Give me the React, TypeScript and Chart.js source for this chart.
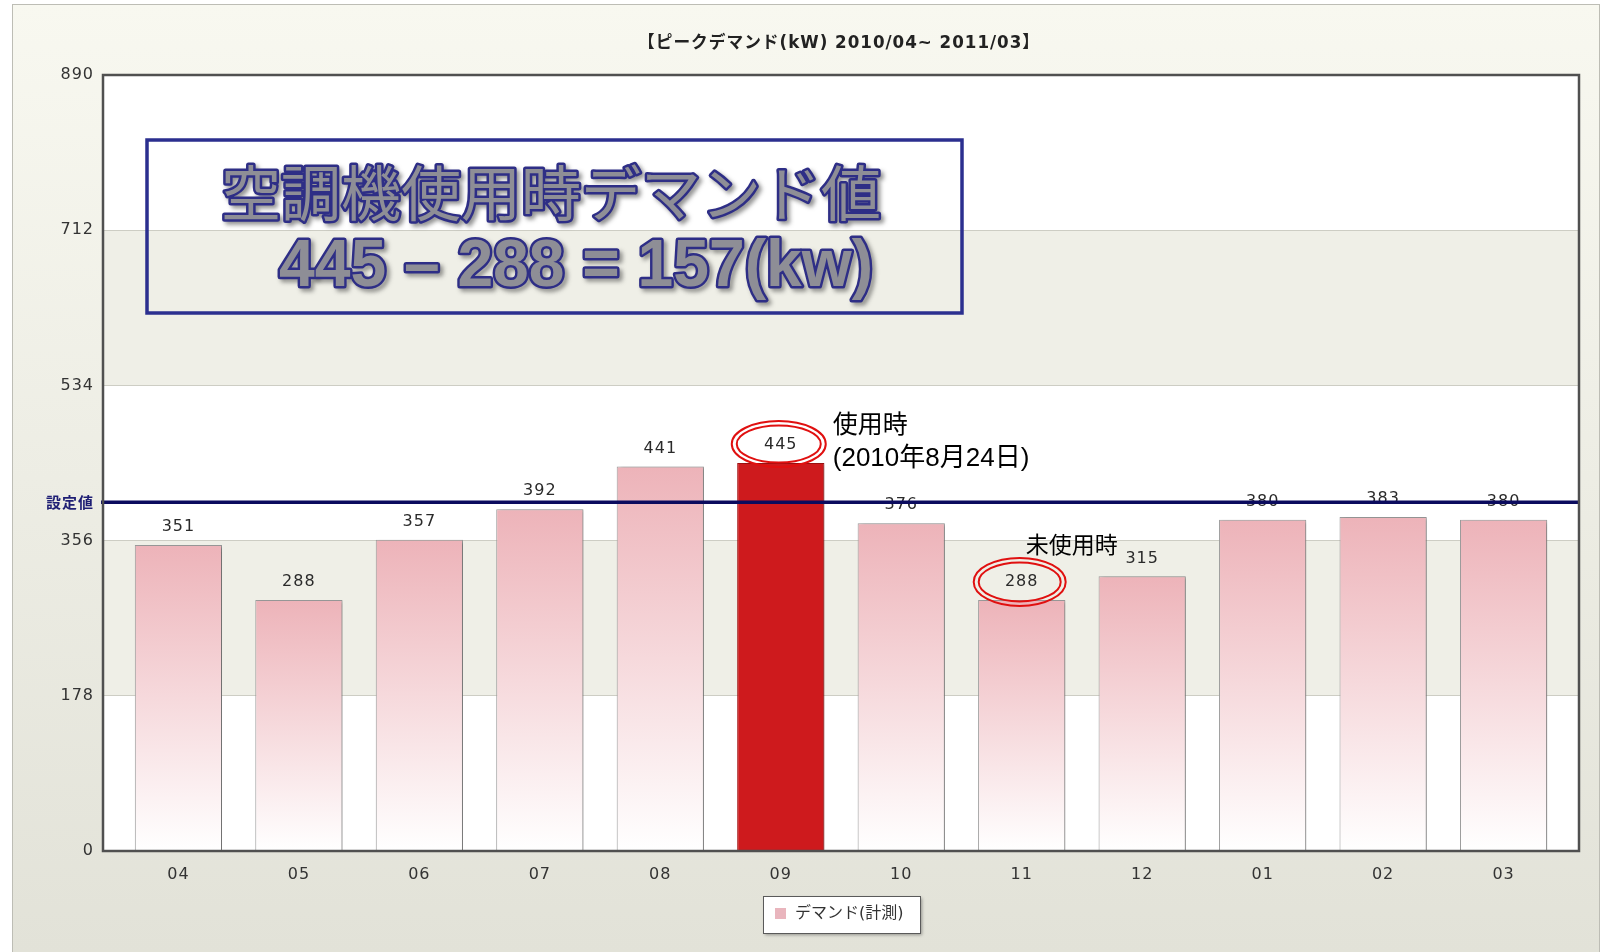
import React, { useEffect, useRef } from "react";
import { Chart, registerables } from "chart.js";
Chart.register(...registerables);

const months = ["04", "05", "06", "07", "08", "09", "10", "11", "12", "01", "02", "03"];
const demand = [351, 288, 357, 392, 441, 445, 376, 288, 315, 380, 383, 380];
const yTicks = [0, 178, 356, 534, 712, 890];
const setpoint = 400;
const highlightIndex = 5;
const offIndex = 7;
const titleText = "【ピークデマンド(kW) 2010/04~ 2011/03】";
const legendLabel = "デマンド(計測)";
const setpointLabel = "設定値";
const boxLine1 = "空調機使用時デマンド値";
const boxLine2 = "445 – 288 = 157(kw)";
const useLabel = ["使用時", "(2010年8月24日)"];
const offLabel = "未使用時";

const W = 1610;
const H = 952;
const SANS = "'DejaVu Sans', 'Noto Sans CJK JP', sans-serif";
const JP = "'Liberation Sans', 'Noto Sans CJK JP', sans-serif";

function ellipse(ctx: CanvasRenderingContext2D, cx: number, cy: number, rx: number, ry: number) {
  ctx.beginPath();
  ctx.ellipse(cx, cy, rx, ry, 0, 0, Math.PI * 2);
  ctx.stroke();
}

const decorPlugin = {
  id: "decor",
  beforeDraw(chart: any) {
    const { ctx, chartArea: a, scales } = chart;
    ctx.save();
    ctx.fillStyle = "#ffffff";
    ctx.fillRect(0, 0, W, H);
    const g = ctx.createLinearGradient(0, 4, 0, H);
    g.addColorStop(0, "#F8F8F0");
    g.addColorStop(1, "#E2E2D8");
    ctx.fillStyle = g;
    ctx.fillRect(12, 4, 1587, H);
    ctx.strokeStyle = "#BDBDB5";
    ctx.lineWidth = 1;
    ctx.strokeRect(12.5, 4.5, 1587, H + 10);
    ctx.fillStyle = "#ffffff";
    ctx.fillRect(a.left, a.top, a.right - a.left, a.bottom - a.top);
    const y = scales.y;
    ctx.fillStyle = "#EFEFE7";
    for (let i = 1; i < yTicks.length - 1; i += 2) {
      const y1 = y.getPixelForValue(yTicks[i]);
      const y2 = y.getPixelForValue(yTicks[i + 1]);
      ctx.fillRect(a.left, y2, a.right - a.left, y1 - y2);
    }
    ctx.fillStyle = "#222";
    ctx.font = `bold 17px ${SANS}`;
    (ctx as any).letterSpacing = "1px";
    ctx.textAlign = "center";
    ctx.textBaseline = "middle";
    ctx.fillText(titleText, 839, 44, 402);
    ctx.restore();
    (ctx as any).letterSpacing = "1px";
  },
  beforeDatasetsDraw(chart: any) {
    const ctx = chart.ctx;
    ctx.save();
    ctx.shadowColor = "rgba(0,0,0,0.28)";
    ctx.shadowOffsetX = 3;
    ctx.shadowOffsetY = 1;
    ctx.shadowBlur = 3;
  },
  afterDatasetsDraw(chart: any) {
    const { ctx, chartArea: a, scales } = chart;
    ctx.restore();
    ctx.save();
    const meta = chart.getDatasetMeta(0);
    ctx.font = `16px ${SANS}`;
    (ctx as any).letterSpacing = "1px";
    ctx.fillStyle = "#2a2a2a";
    ctx.textAlign = "center";
    ctx.textBaseline = "middle";
    meta.data.forEach((bar: any, i: number) => {
      ctx.fillText(String(demand[i]), bar.x, bar.y - 18);
    });
    (ctx as any).letterSpacing = "0px";
    const sy = scales.y.getPixelForValue(setpoint);
    ctx.strokeStyle = "#0B0B5E";
    ctx.lineWidth = 3.5;
    ctx.beginPath();
    ctx.moveTo(a.left - 2, sy);
    ctx.lineTo(a.right, sy);
    ctx.stroke();
    ctx.strokeStyle = "#505050";
    ctx.lineWidth = 2.5;
    ctx.strokeRect(a.left, a.top, a.right - a.left, a.bottom - a.top);

    ctx.strokeStyle = "#E01010";
    ctx.lineWidth = 2;
    const hb = meta.data[highlightIndex];
    const ob = meta.data[offIndex];
    ellipse(ctx, hb.x - 2, hb.y - 19, 47, 23);
    ellipse(ctx, hb.x - 2, hb.y - 19, 42, 18.5);
    ellipse(ctx, ob.x - 2, ob.y - 18, 46, 24);
    ellipse(ctx, ob.x - 2, ob.y - 18, 41, 19.5);

    ctx.fillStyle = "#000";
    ctx.textAlign = "left";
    ctx.textBaseline = "middle";
    ctx.font = `25px ${JP}`;
    ctx.fillText(useLabel[0], hb.x + 52, 426);
    ctx.font = `26px ${JP}`;
    ctx.fillText(useLabel[1], hb.x + 52, 459, 198);
    ctx.font = `23px ${JP}`;
    ctx.fillText(offLabel, ob.x + 4, 547);

    ctx.strokeStyle = "#2B2F8F";
    ctx.lineWidth = 3.5;
    ctx.strokeRect(147, 140, 815, 173);

    const drawOutlined = (text: string, x: number, y: number, font: string, width: number) => {
      ctx.font = font;
      ctx.textAlign = "left";
      ctx.textBaseline = "middle";
      ctx.save();
      ctx.shadowColor = "rgba(60,60,60,0.55)";
      ctx.shadowOffsetX = 3;
      ctx.shadowOffsetY = 3;
      ctx.shadowBlur = 4;
      ctx.strokeStyle = "#2E2E86";
      ctx.lineWidth = 5;
      ctx.lineJoin = "round";
      ctx.strokeText(text, x, y, width);
      ctx.restore();
      ctx.fillStyle = "#8E8E96";
      ctx.fillText(text, x, y, width);
    };
    drawOutlined(boxLine1, 221, 193, `400 60px 'Noto Sans CJK JP', sans-serif`, 667);
    drawOutlined(boxLine2, 279, 268, `bold 66px 'Liberation Sans', Arial, sans-serif`, 594);

    ctx.save();
    ctx.shadowColor = "rgba(0,0,0,0.35)";
    ctx.shadowOffsetX = 2;
    ctx.shadowOffsetY = 2;
    ctx.shadowBlur = 3;
    ctx.fillStyle = "#ffffff";
    ctx.fillRect(763, 896, 157, 37);
    ctx.restore();
    ctx.strokeStyle = "#5a5a5a";
    ctx.lineWidth = 1;
    ctx.strokeRect(763.5, 896.5, 157, 37);
    ctx.fillStyle = "#E9B5BD";
    ctx.fillRect(775, 908, 11, 11);
    ctx.fillStyle = "#333";
    ctx.font = `16px ${SANS}`;
    ctx.textBaseline = "middle";
    ctx.fillText(legendLabel, 795, 914);
    ctx.restore();
  },
};

export default function App() {
  const ref = useRef<HTMLCanvasElement | null>(null);
  useEffect(() => {
    if (!ref.current) return;
    const chart = new Chart(ref.current, {
      type: "bar",
      data: {
        datasets: [
          {
            label: legendLabel,
            data: demand.map((v, i) => ({ x: i, y: v })),
            backgroundColor: (c: any) => {
              if (c.dataIndex === highlightIndex) return "#CE1A1D";
              const chart = c.chart;
              const area = chart.chartArea;
              if (!area || !chart.scales || !chart.scales.y) return "#EDB6BC";
              const top = chart.scales.y.getPixelForValue(demand[c.dataIndex]);
              const g = chart.ctx.createLinearGradient(0, top, 0, area.bottom);
              g.addColorStop(0, "#EDB3B9");
              g.addColorStop(1, "#FFFFFF");
              return g;
            },
            borderColor: (c: any) => (c.dataIndex === highlightIndex ? "#A01212" : "#9A9A9A"),
            borderWidth: 1,
            categoryPercentage: 1,
            barPercentage: 0.724,
          },
        ],
      },
      options: {
        responsive: false,
        animation: false,
        layout: { padding: { left: 0, right: 31, top: 75, bottom: 0 } },
        plugins: { legend: { display: false }, tooltip: { enabled: false }, title: { display: false } },
        scales: {
          x: {
            type: "linear",
            min: -0.626,
            max: 11.626,
            offset: false,
            grid: { display: false },
            border: { display: false },
            afterBuildTicks: (s: any) => {
              s.ticks = months.map((_, i) => ({ value: i }));
            },
            ticks: {
              autoSkip: false,
              color: "#333",
              font: { size: 16, family: SANS },
              padding: 6,
              callback: (v: any) => months[Number(v)] ?? "",
            },
            afterFit: (s: any) => {
              s.height = 101;
            },
          },
          y: {
            min: 0,
            max: 890,
            afterBuildTicks: (s: any) => {
              s.ticks = [...yTicks, setpoint].sort((p, q) => p - q).map((v) => ({ value: v }));
            },
            afterFit: (s: any) => {
              s.width = 103;
            },
            border: { display: false },
            grid: {
              drawTicks: false,
              color: (c: any) =>
                c.tick && (c.tick.value === setpoint || c.tick.value === 0 || c.tick.value === 890)
                  ? "rgba(0,0,0,0)"
                  : "#CDCDC4",
              lineWidth: 1,
            },
            ticks: {
              autoSkip: false,
              padding: 9,
              color: (c: any) => (c.tick && c.tick.value === setpoint ? "#1E1E74" : "#333"),
              font: (c: any) =>
                c.tick && c.tick.value === setpoint
                  ? { size: 15, family: "'Noto Sans CJK JP', sans-serif", weight: "bold" }
                  : { size: 16, family: SANS },
              callback: (v: any) => (Number(v) === setpoint ? setpointLabel : String(v)),
            },
          },
        },
      },
      plugins: [decorPlugin],
    });
    return () => chart.destroy();
  }, []);
  return (
    <div style={{ position: "absolute", left: 0, top: 0, width: W, height: H }}>
      <canvas ref={ref} width={W} height={H} style={{ display: "block", width: W, height: H }} />
    </div>
  );
}
